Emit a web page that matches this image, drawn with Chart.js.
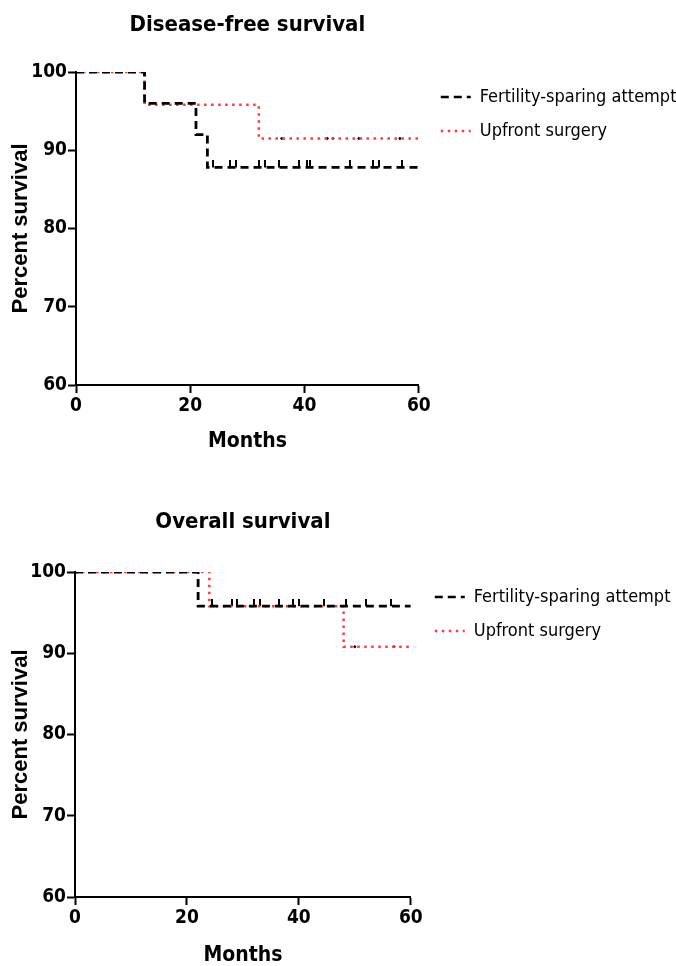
<!DOCTYPE html>
<html lang="en">
<head>
<meta charset="UTF-8">
<title>Survival curves</title>
<script src="https://cdn.jsdelivr.net/npm/chart.js"></script>
<style>
  body { margin: 0; background: #fff; }
  .chartBox { position: relative; width: 676px; height: 483px; }
</style>
</head>
<body>
<div class="chartBox"><canvas id="dfsChart"></canvas></div>
<div class="chartBox"><canvas id="osChart"></canvas></div>
<script>
const NARROW = "'Liberation Sans Narrow', 'Arial Narrow', 'DejaVu Sans Condensed', sans-serif";
const SANS = "'Liberation Sans', Arial, sans-serif";

const seriesNames = ['Fertility-sparing attempt', 'Upfront surgery'];
const xTicks = [0, 20, 40, 60];
const yTicks = [60, 70, 80, 90, 100];

// disease-free survival, step points (month, % surviving)
const dfsFertMonths = [0, 12, 21, 23, 60];
const dfsFertValues = [100, 96, 92, 87.8, 87.8];
const dfsFertCensored = [24, 27, 28, 32, 33, 35.5, 39, 40.5, 41, 48, 52, 53, 57];
const dfsUpMonths = [0, 12, 32, 60];
const dfsUpValues = [100, 95.8, 91.5, 91.5];
const dfsUpCensored = [36, 44, 45, 49.5, 56.7];

// overall survival
const osFertMonths = [0, 22, 60];
const osFertValues = [100, 95.8, 95.8];
const osFertCensored = [24.5, 28, 29, 32, 33, 36.5, 39, 40, 44.5, 48.5, 52, 56.5];
const osUpMonths = [0, 24, 48, 60];
const osUpValues = [100, 95.8, 90.8, 90.8];
const osUpCensored = [50, 57];

const RED = '#ff3b3b';

// small upward tick used for censored cases
function makeTick(h, color) {
  const c = document.createElement('canvas');
  c.width = 2; c.height = h * 2;
  const g = c.getContext('2d');
  g.fillStyle = color;
  g.fillRect(0, 0, 2, h);
  return c;
}
const tickMark = makeTick(7, '#000');

function toPoints(months, values) {
  return months.map((m, i) => ({ x: m, y: values[i] }));
}
// survival at time t
function levelAt(months, values, t) {
  let v = values[0];
  months.forEach((m, i) => { if (m <= t) v = values[i]; });
  return v;
}
function censorPoints(months, values, times) {
  return times.map(t => ({ x: t, y: levelAt(months, values, t) }));
}

const panelTitle = {
  id: 'panelTitle',
  afterDraw(chart, args, opts) {
    const { ctx, chartArea } = chart;
    ctx.save();
    ctx.font = 'bold 22px ' + NARROW;
    ctx.fillStyle = '#000';
    ctx.textAlign = 'center';
    ctx.textBaseline = 'middle';
    ctx.fillText(opts.text, (chartArea.left + chartArea.right) / 2, opts.y);
    ctx.restore();
  }
};

// lay: title y, padding top/right/bottom, y axis width, x axis height, legend gap, months title padding
function makeChart(id, title, lay, fert, up) {
  const axisLine = { display: true, color: '#000', width: 2 };
  const gridOpts = { drawOnChartArea: false, drawTicks: true, tickLength: 8, tickWidth: 2, tickColor: '#000' };
  return new Chart(document.getElementById(id), {
    type: 'line',
    data: {
      datasets: [
        { label: seriesNames[0], data: toPoints(fert.m, fert.v), stepped: true,
          borderColor: '#000', borderWidth: 2.8, borderDash: [8, 5], pointRadius: 0, fill: false },
        { label: seriesNames[1], data: toPoints(up.m, up.v), stepped: true,
          borderColor: RED, borderWidth: 2.5, borderDash: [2.5, 4.5], pointRadius: 0, fill: false },
        { label: 'censored-1', data: censorPoints(fert.m, fert.v, fert.c), showLine: false,
          pointStyle: tickMark, pointRadius: 4 },
        { label: 'censored-2', data: censorPoints(up.m, up.v, up.c), showLine: false,
          pointStyle: 'circle', pointRadius: 1, backgroundColor: '#000', borderColor: '#000' }
      ]
    },
    options: {
      responsive: true,
      maintainAspectRatio: false,
      animation: false,
      layout: { padding: { top: lay.top, left: 0, right: lay.right, bottom: lay.bottom } },
      scales: {
        x: {
          type: 'linear', min: 0, max: 60,
          afterBuildTicks: s => { s.ticks = xTicks.map(v => ({ value: v })); },
          afterFit: s => { s.height = lay.xh; },
          border: axisLine, grid: gridOpts,
          ticks: { color: '#000', padding: 2, font: { family: NARROW, size: 19, weight: 'bold' } },
          title: { display: true, text: 'Months', color: '#000', padding: { top: 0, bottom: lay.mpad },
                   font: { family: NARROW, size: 21, weight: 'bold', lineHeight: 1 } }
        },
        y: {
          min: 60, max: 100,
          afterBuildTicks: s => { s.ticks = yTicks.map(v => ({ value: v })); },
          afterFit: s => { s.width = lay.yw; },
          border: axisLine, grid: gridOpts,
          ticks: { color: '#000', padding: 1, font: { family: NARROW, size: 19, weight: 'bold' } },
          title: { display: true, text: 'Percent survival', color: '#000', padding: { top: 8, bottom: 0 },
                   font: { family: SANS, size: 22, weight: 'bold' } }
        },
        // empty spacer between the plot and the legend
        gap: {
          type: 'linear', position: 'right', display: true,
          grid: { display: false }, border: { display: false }, ticks: { display: false },
          afterFit: s => { s.width = lay.gap; }
        }
      },
      plugins: {
        panelTitle: { text: title, y: lay.titleY },
        tooltip: { enabled: false },
        legend: {
          position: 'right', align: 'start', maxWidth: 300,
          labels: {
            color: '#000', padding: 16, usePointStyle: true, pointStyleWidth: 30,
            font: { family: NARROW, size: 18 },
            generateLabels: chart => chart.data.datasets.slice(0, 2).map((d, i) => ({
              text: d.label, datasetIndex: i, pointStyle: 'line', lineWidth: 2.5,
              strokeStyle: d.borderColor, fillStyle: d.borderColor, lineDash: d.borderDash,
              fontColor: '#000'
            }))
          }
        }
      }
    },
    plugins: [panelTitle]
  });
}

makeChart('dfsChart', 'Disease-free survival',
  { titleY: 25, top: 72, right: -10.5, bottom: 26, yw: 76, xh: 72, gap: 6, mpad: 4.5 },
  { m: dfsFertMonths, v: dfsFertValues, c: dfsFertCensored },
  { m: dfsUpMonths, v: dfsUpValues, c: dfsUpCensored });
makeChart('osChart', 'Overall survival',
  { titleY: 39, top: 89, right: -4.5, bottom: 0, yw: 75, xh: 69, gap: 8, mpad: 0 },
  { m: osFertMonths, v: osFertValues, c: osFertCensored },
  { m: osUpMonths, v: osUpValues, c: osUpCensored });
</script>
</body>
</html>
